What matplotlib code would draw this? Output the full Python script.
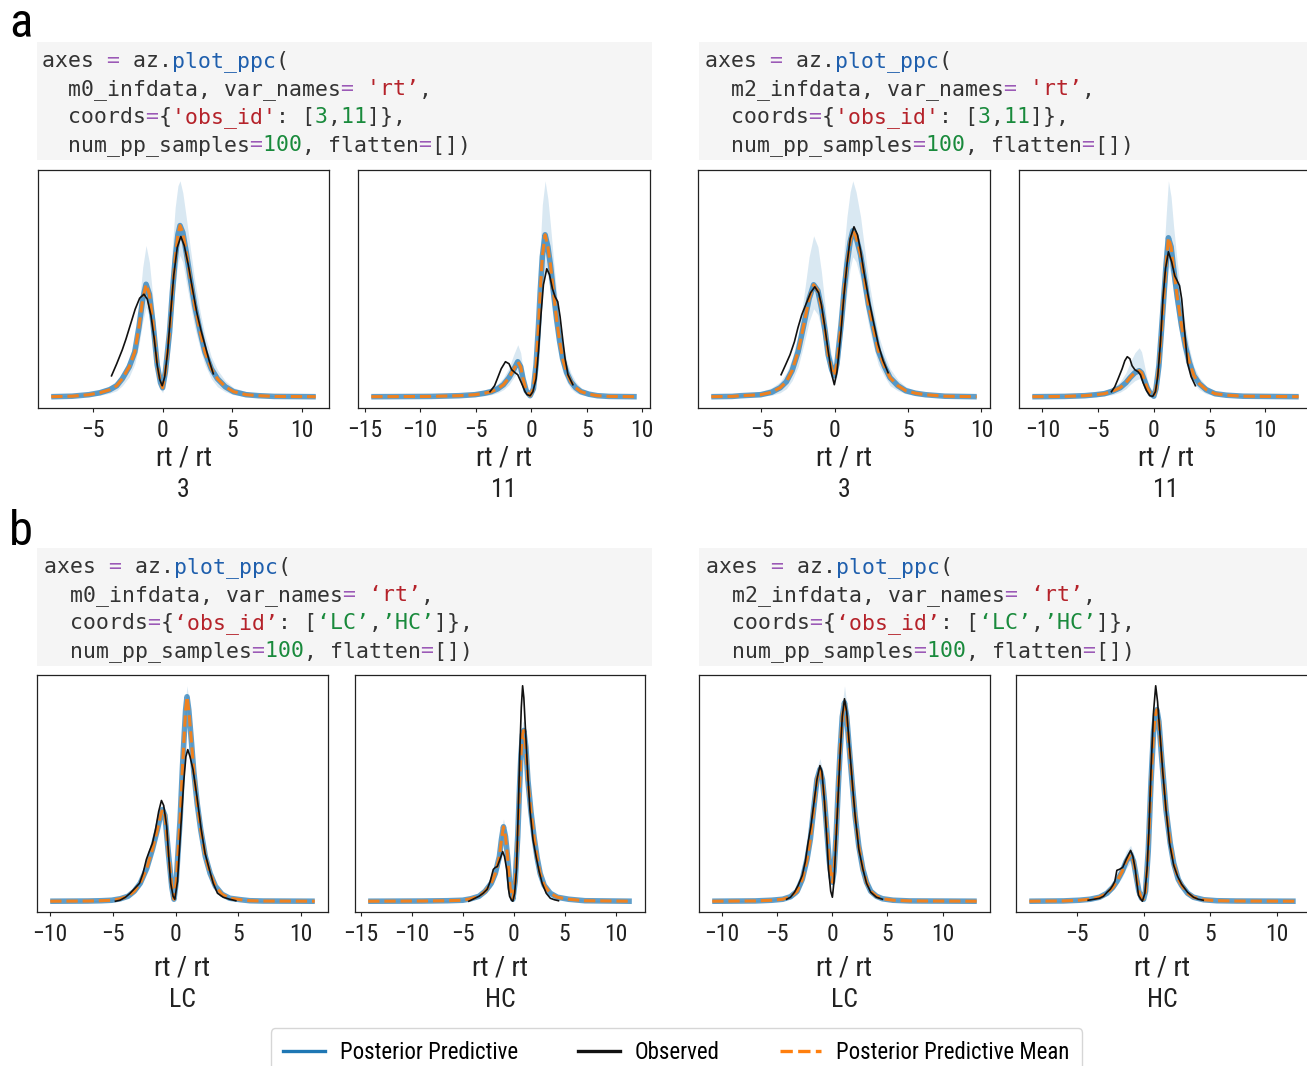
import numpy as np
import matplotlib
matplotlib.use("Agg")
import matplotlib.pyplot as plt
from matplotlib.lines import Line2D
from matplotlib.patches import Rectangle

plt.rcParams['font.family'] = ['Roboto Condensed', 'Liberation Sans Narrow', 'DejaVu Sans']

# ---------------- data (density heights in arbitrary units) ----------------
# Panel 1: m0, obs_id 3
p1_x = [-8.0, -6.5, -5.3, -4.5, -3.8, -3.3, -2.9, -2.4, -2.0, -1.7, -1.43, -1.19, -0.95, -0.7, -0.39, -0.15, 0.0, 0.2, 0.5, 0.7, 0.9, 1.1, 1.25, 1.45, 1.7, 2.0, 2.3, 2.7, 3.04, 3.5, 3.94, 4.5, 5.1, 6.0, 6.9, 8.0, 11.0]
p1_mean = [0, 0.5, 2, 4, 7, 11, 18, 30, 45, 70, 98, 113, 103, 75, 32, 14, 9, 25, 65, 105, 138, 163, 172, 165, 145, 118, 92, 65, 45, 28, 18, 10, 5, 2, 1, 0.3, 0]
p1_hi = [0, 1.5, 4, 7, 11, 16, 24, 38, 56, 90, 130, 152, 135, 100, 48, 24, 16, 40, 95, 150, 190, 212, 217, 205, 180, 148, 118, 85, 62, 40, 27, 16, 9, 5, 3, 1, 0]
p1_lo = [0, 0, 0.5, 1.5, 3.5, 6, 11, 20, 33, 52, 75, 90, 80, 55, 20, 7, 4, 14, 45, 80, 110, 135, 142, 135, 115, 92, 70, 48, 32, 18, 10, 5, 2, 0.5, 0, 0, 0]
p1_obs_x = [-3.67, -3.3, -2.9, -2.63, -2.3, -1.97, -1.65, -1.34, -1.1, -0.84, -0.6, -0.39, -0.2, -0.03, 0.15, 0.36, 0.6, 0.8, 1.05, 1.31, 1.55, 1.85, 2.15, 2.45, 2.75, 3.04, 3.35, 3.64]
p1_obs = [21, 33, 47, 58, 73, 88, 99, 103, 98, 82, 58, 32, 17, 11, 20, 45, 88, 122, 150, 161, 152, 132, 108, 85, 67, 52, 36, 23]

# Panel 2: m0, obs_id 11
p2_x = [-14.4, -9.0, -6.5, -5.07, -4.2, -3.6, -3.0, -2.5, -2.0, -1.58, -1.21, -0.95, -0.74, -0.45, -0.1, 0.2, 0.44, 0.65, 0.81, 1.0, 1.25, 1.5, 1.73, 2.0, 2.28, 2.55, 2.83, 3.2, 3.57, 4.0, 4.49, 5.2, 5.96, 7.0, 9.5]
p2_mean = [0, 0.3, 1, 2, 3.5, 5, 8, 12, 19, 27, 35, 30, 18, 6, 1, 8, 32, 70, 105, 140, 162, 150, 132, 105, 78, 56, 38, 24, 15, 9, 5, 2.5, 1, 0.3, 0]
p2_hi = [0, 1, 2.5, 4.5, 7, 9, 13, 19, 29, 42, 52, 44, 28, 11, 3, 15, 50, 105, 150, 192, 216, 198, 172, 138, 105, 78, 55, 36, 24, 15, 9, 5, 2.5, 1, 0]
p2_lo = [0, 0, 0, 0.5, 1, 2, 4, 7, 12, 19, 25, 20, 11, 3, 0, 4, 20, 48, 75, 108, 128, 120, 105, 82, 58, 40, 25, 15, 8, 4, 2, 0.5, 0, 0, 0]
p2_obs_x = [-3.71, -3.3, -3.05, -2.7, -2.32, -2.0, -1.76, -1.45, -1.21, -0.85, -0.55, -0.37, -0.1, 0.15, 0.44, 0.65, 0.88, 1.1, 1.4, 1.65, 1.91, 2.15, 2.39, 2.6, 2.83, 3.05, 3.31, 3.75]
p2_obs = [5, 11, 18, 28, 35, 33, 27, 24, 22, 13, 5, 2, 1, 5, 18, 45, 82, 112, 128, 122, 108, 100, 95, 80, 58, 38, 22, 12]

# Panel 3: m2, obs_id 3
p3_x = [-8.42, -7.0, -6.4, -5.05, -4.3, -3.72, -3.3, -2.91, -2.5, -2.11, -1.75, -1.44, -1.15, -0.91, -0.65, -0.45, -0.2, -0.03, 0.15, 0.43, 0.65, 0.83, 1.05, 1.23, 1.45, 1.76, 2.0, 2.3, 2.65, 2.97, 3.4, 3.77, 4.3, 4.84, 5.5, 6.18, 7.5, 9.68]
p3_mean = [0, 0.3, 1, 2, 4.5, 9, 15, 26, 45, 72, 98, 112, 106, 89, 65, 42, 27, 21, 33, 72, 108, 132, 155, 166, 160, 142, 120, 92, 68, 46, 30, 19, 11, 6, 3.5, 2, 0.5, 0]
p3_hi = [0, 1, 2.5, 5, 9, 15, 24, 38, 62, 100, 140, 161, 150, 125, 90, 60, 40, 32, 50, 100, 150, 180, 205, 216, 205, 180, 152, 118, 88, 62, 42, 28, 17, 10, 6, 3.5, 1, 0]
p3_lo = [0, 0, 0, 0.5, 1.5, 4, 8, 16, 30, 52, 75, 88, 82, 68, 46, 28, 17, 13, 20, 50, 80, 104, 128, 140, 135, 118, 98, 72, 50, 32, 20, 11, 6, 3, 1, 0.5, 0, 0]
p3_obs_x = [-3.66, -3.35, -3.05, -2.75, -2.51, -2.25, -1.98, -1.65, -1.36, -1.1, -0.91, -0.7, -0.45, -0.2, -0.03, 0.15, 0.43, 0.63, 0.83, 1.05, 1.31, 1.55, 1.76, 2.0, 2.3, 2.65, 2.97, 3.3, 3.64]
p3_obs = [22, 32, 42, 55, 69, 82, 92, 104, 110, 104, 92, 72, 46, 22, 12, 25, 66, 102, 132, 158, 170, 162, 146, 124, 99, 74, 52, 36, 24]

# Panel 4: m2, obs_id 11
p4_x = [-10.9, -8.0, -6.2, -5.2, -4.44, -3.7, -3.02, -2.5, -2.13, -1.7, -1.31, -1.1, -0.89, -0.6, -0.3, 0.0, 0.2, 0.46, 0.7, 0.89, 1.1, 1.31, 1.55, 1.78, 2.1, 2.49, 2.85, 3.2, 3.6, 4.09, 4.7, 5.5, 6.5, 8.0, 13.0]
p4_mean = [0, 0.3, 1, 2, 3, 5.5, 9, 14, 19, 24, 26, 24, 18, 9, 3, 0.5, 8, 31, 68, 98, 132, 159, 150, 128, 100, 71, 50, 34, 21, 13, 7, 3, 1.5, 0.5, 0]
p4_hi = [0, 1, 2.5, 4.5, 6, 9.5, 15, 24, 34, 44, 49, 45, 34, 18, 7, 2, 15, 50, 100, 140, 180, 216, 200, 170, 135, 98, 70, 48, 30, 19, 11, 5, 2.5, 1, 0]
p4_lo = [0, 0, 0, 0, 1, 2, 4.5, 8, 12, 16, 18, 16, 11, 4, 1, 0, 3, 18, 45, 72, 105, 131, 122, 104, 78, 52, 34, 22, 13, 7, 3, 1, 0.5, 0, 0]
p4_obs_x = [-3.8, -3.5, -3.2, -2.84, -2.6, -2.38, -2.15, -1.95, -1.7, -1.42, -1.2, -0.96, -0.65, -0.36, -0.1, 0.15, 0.36, 0.6, 0.82, 1.05, 1.31, 1.6, 1.88, 2.1, 2.31, 2.5, 2.66, 2.85, 3.02, 3.35, 3.73]
p4_obs = [5, 10, 18, 28, 36, 40, 38, 31, 27, 25, 22, 14, 6, 1, 0.3, 5, 21, 55, 98, 128, 145, 135, 121, 116, 111, 98, 78, 55, 34, 20, 11]

# Panel 5: m0, obs_id LC
p5_x = [-10.0, -7.0, -5.93, -5.09, -4.4, -3.79, -3.3, -2.82, -2.3, -1.85, -1.45, -1.2, -1.04, -0.85, -0.55, -0.3, -0.13, 0.05, 0.36, 0.55, 0.68, 0.8, 0.91, 1.05, 1.23, 1.45, 1.72, 2.0, 2.37, 2.75, 3.18, 3.7, 4.31, 5.2, 5.93, 7.0, 11.1]
p5_mean = [0, 0.2, 0.5, 1, 2.5, 5, 10, 18, 33, 52, 72, 86, 92, 86, 45, 14, 2, 20, 82, 135, 165, 192, 205, 192, 165, 130, 98, 72, 45, 28, 15, 7, 3, 1.5, 0.5, 0.2, 0]
p5_hi = [0, 0.5, 1, 2, 3.5, 6.5, 12, 21, 37, 57, 78, 91, 96, 90, 50, 18, 4, 26, 92, 146, 176, 203, 216, 202, 175, 138, 105, 78, 50, 31, 17, 8.5, 4, 2, 1, 0.5, 0]
p5_lo = [0, 0, 0, 0.3, 1.5, 3.5, 8, 15, 29, 47, 66, 80, 86, 80, 40, 11, 0.5, 15, 72, 124, 154, 180, 192, 180, 154, 122, 91, 66, 40, 24, 12, 5.5, 2, 1, 0.2, 0, 0]
p5_obs_x = [-4.8, -4.44, -4.0, -3.63, -3.25, -2.88, -2.6, -2.33, -2.1, -1.85, -1.6, -1.35, -1.13, -0.95, -0.71, -0.55, -0.39, -0.2, -0.06, 0.15, 0.42, 0.65, 0.82, 0.97, 1.15, 1.39, 1.7, 2.04, 2.35, 2.69, 3.0, 3.34, 3.8, 4.31, 4.8]
p5_obs = [0, 1, 4, 8, 13, 18, 28, 42, 50, 58, 72, 90, 101, 96, 75, 45, 18, 5, 2, 20, 75, 120, 145, 152, 145, 132, 105, 72, 48, 32, 18, 8, 4, 2, 0.5]

# Panel 6: m0, obs_id HC
p6_x = [-14.28, -9.0, -6.5, -5.0, -4.2, -3.4, -2.8, -2.2, -1.8, -1.4, -1.2, -1.0, -0.8, -0.6, -0.35, -0.08, 0.15, 0.4, 0.58, 0.72, 0.87, 1.0, 1.2, 1.4, 1.7, 2.0, 2.3, 2.6, 3.0, 3.6, 4.3, 5.4, 7.0, 11.6]
p6_mean = [0, 0.2, 0.5, 1, 2.5, 5, 10, 18, 28, 45, 62, 75, 65, 45, 14, 2, 20, 65, 115, 148, 168, 172, 155, 122, 90, 65, 44, 28, 16, 8, 4, 2, 0.5, 0]
p6_hi = [0, 0.5, 1, 2, 4, 7, 13, 23, 34, 55, 74, 83, 73, 52, 18, 4, 26, 75, 128, 162, 180, 182, 166, 132, 98, 72, 49, 32, 19, 10, 5, 2.5, 1, 0]
p6_lo = [0, 0, 0, 0.3, 1.5, 3.5, 7.5, 14, 23, 37, 52, 66, 57, 38, 10, 0.5, 14, 55, 102, 134, 155, 165, 145, 112, 82, 58, 39, 24, 13, 6, 2.5, 1, 0.2, 0]
p6_obs_x = [-4.4, -4.2, -3.8, -3.4, -3.0, -2.6, -2.3, -2.0, -1.8, -1.6, -1.35, -1.08, -0.9, -0.68, -0.5, -0.4, -0.2, -0.08, 0.1, 0.28, 0.45, 0.6, 0.75, 0.88, 1.0, 1.2, 1.4, 1.6, 1.9, 2.2, 2.5, 2.8, 3.2, 3.6, 4.0, 4.4]
p6_obs = [0, 1, 3, 5, 8, 12, 20, 32, 34, 35, 42, 50, 45, 32, 12, 5, 1, 0, 8, 32, 90, 148, 195, 217, 205, 165, 125, 92, 62, 45, 30, 18, 8, 3, 1.5, 0.5]

# Panel 7: m2, obs_id LC
p7_x = [-10.9, -7.0, -5.5, -4.5, -3.8, -3.2, -2.73, -2.3, -2.0, -1.67, -1.4, -1.13, -0.9, -0.71, -0.5, -0.3, -0.1, 0.0, 0.15, 0.35, 0.55, 0.71, 0.9, 1.1, 1.3, 1.52, 1.8, 2.06, 2.4, 2.77, 3.1, 3.48, 4.0, 4.54, 5.5, 7.0, 13.1]
p7_mean = [0, 0.3, 1, 2, 4.5, 10, 22, 42, 62, 95, 122, 132, 122, 100, 70, 42, 24, 19, 30, 68, 118, 152, 185, 199, 185, 155, 118, 86, 55, 32, 19, 10, 5, 2.5, 1, 0.3, 0]
p7_hi = [0, 1, 2, 3.5, 7, 14, 27, 49, 70, 105, 134, 143, 132, 108, 77, 48, 29, 24, 36, 77, 130, 165, 198, 216, 198, 167, 128, 94, 61, 37, 22, 12, 6.5, 3.5, 1.5, 0.6, 0]
p7_lo = [0, 0, 0.3, 1, 2.5, 6.5, 17, 36, 54, 86, 112, 122, 112, 92, 63, 36, 19, 14, 24, 59, 106, 140, 173, 188, 173, 144, 108, 78, 49, 27, 15, 7.5, 3.5, 1.5, 0.5, 0, 0]
p7_obs_x = [-4.15, -3.8, -3.44, -3.1, -2.73, -2.45, -2.2, -1.95, -1.67, -1.4, -1.13, -0.95, -0.71, -0.5, -0.35, -0.15, 0.0, 0.15, 0.35, 0.55, 0.71, 0.9, 1.1, 1.3, 1.52, 1.8, 2.06, 2.4, 2.77, 3.1, 3.48, 4.0, 4.54]
p7_obs = [2, 4, 9, 16, 26, 40, 59, 75, 99, 122, 136, 130, 99, 62, 32, 10, 4, 20, 66, 112, 149, 185, 203, 190, 159, 120, 86, 52, 32, 18, 9, 4, 2]

# Panel 8: m2, obs_id HC
p8_x = [-8.56, -6.0, -4.8, -4.0, -3.3, -2.74, -2.3, -2.0, -1.6, -1.3, -0.97, -0.75, -0.55, -0.35, -0.15, 0.0, 0.15, 0.35, 0.56, 0.75, 0.9, 1.0, 1.15, 1.35, 1.68, 2.0, 2.26, 2.6, 2.85, 3.3, 3.74, 4.5, 5.5, 7.0, 11.4]
p8_mean = [0, 0.3, 1, 2, 4, 8, 14, 20, 30, 40, 47, 40, 25, 10, 3, 2, 10, 50, 120, 170, 188, 192, 180, 145, 92, 58, 38, 22, 16, 8, 4, 1.5, 0.5, 0.2, 0]
p8_hi = [0, 0.6, 1.6, 3, 5.5, 10.5, 17.5, 25, 37, 50, 56, 48, 31, 13, 5, 4, 14, 58, 130, 182, 197, 199, 188, 152, 98, 63, 42, 25, 18, 10, 5, 2, 0.8, 0.3, 0]
p8_lo = [0, 0, 0.5, 1.2, 2.8, 6, 11, 16, 24, 33, 39, 33, 20, 7, 1.5, 0.5, 6, 42, 110, 158, 178, 184, 171, 138, 86, 53, 34, 19, 13, 6, 3, 1, 0.2, 0, 0]
p8_obs_x = [-4.15, -3.7, -3.3, -3.0, -2.74, -2.5, -2.3, -2.15, -2.0, -1.8, -1.56, -1.3, -0.97, -0.8, -0.62, -0.5, -0.38, -0.2, -0.09, 0.1, 0.26, 0.4, 0.56, 0.75, 0.91, 1.05, 1.24, 1.45, 1.68, 1.95, 2.26, 2.55, 2.85, 3.3, 3.74, 4.1, 4.47]
p8_obs = [1, 2, 3, 5, 9, 12, 16, 20, 31, 32, 34, 42, 51, 45, 32, 18, 6, 2, 0, 8, 32, 70, 132, 190, 216, 200, 166, 128, 92, 58, 36, 25, 17, 9, 4, 2, 1]

panel_titles = ["3", "11", "3", "11", "LC", "HC", "LC", "HC"]
x_label = "rt / rt"
legend_labels = ["Posterior Predictive", "Observed", "Posterior Predictive Mean"]
panel_labels = ["a", "b"]
model_names = ["m0_infdata", "m2_infdata"]

panels = [
    (p1_x, p1_mean, p1_lo, p1_hi, p1_obs_x, p1_obs),
    (p2_x, p2_mean, p2_lo, p2_hi, p2_obs_x, p2_obs),
    (p3_x, p3_mean, p3_lo, p3_hi, p3_obs_x, p3_obs),
    (p4_x, p4_mean, p4_lo, p4_hi, p4_obs_x, p4_obs),
    (p5_x, p5_mean, p5_lo, p5_hi, p5_obs_x, p5_obs),
    (p6_x, p6_mean, p6_lo, p6_hi, p6_obs_x, p6_obs),
    (p7_x, p7_mean, p7_lo, p7_hi, p7_obs_x, p7_obs),
    (p8_x, p8_mean, p8_lo, p8_hi, p8_obs_x, p8_obs),
]

# ---------------- layout (pixels) ----------------
W, H = 1307, 1066
fig = plt.figure(figsize=(W / 100, H / 100), dpi=100)
fig.patch.set_facecolor("white")

# (left, top, right, bottom) in pixels from top-left
axes_px = [
    (38, 170, 329, 407.5), (358, 170, 650, 407.5), (698, 170, 990, 407.5), (1019, 170, 1312, 407.5),
    (37, 675, 328, 912), (355, 675, 645, 912), (699, 675, 990, 912), (1016, 675, 1309, 912),
]

C_BLUE = "#1f77b4"
C_ORANGE = "#ff7f0e"

for i, ((l, t, r, b), (x, mean, lo, hi, ox, oy)) in enumerate(zip(axes_px, panels)):
    ax = fig.add_axes([l / W, 1 - b / H, (r - l) / W, (b - t) / H])
    x = np.asarray(x); mean = np.asarray(mean)
    lo = np.asarray(lo); hi = np.asarray(hi)
    ax.fill_between(x, lo, hi, color=C_BLUE, alpha=0.17, lw=0, zorder=1)
    ax.plot(x, mean, color=C_BLUE, lw=4.0, alpha=0.7, zorder=2, solid_capstyle="butt")
    ax.plot(x, mean, color=C_ORANGE, lw=2.2, ls="--", zorder=3, alpha=0.9)
    ax.plot(ox, oy, color="#111111", lw=1.2, zorder=4)
    M = max(hi.max(), max(oy))
    ax.set_ylim(-0.05 * M, 1.05 * M)
    pad = 0.05 * (x[-1] - x[0])
    ax.set_xlim(x[0] - pad, x[-1] + pad)
    ax.xaxis.set_major_locator(matplotlib.ticker.MultipleLocator(5))
    ax.set_yticks([])
    ax.tick_params(axis="x", labelsize=17, length=3, width=0.8, pad=5, colors="#222222")
    for s in ax.spines.values():
        s.set_linewidth(0.9)
        s.set_color("#222222")
    cx = (l + r) / 2
    ylab = 458 if i < 4 else 968
    ytit = 490 if i < 4 else 1000
    fig.text(cx / W, 1 - ylab / H, x_label, ha="center", va="center", fontsize=20, color="#222222")
    fig.text(cx / W, 1 - ytit / H, panel_titles[i], ha="center", va="center", fontsize=18.5, color="#222222")

# ---------------- code blocks ----------------
D = "#333333"; P = "#9b59b6"; B = "#1f5fad"; R = "#b5222a"; G = "#198a3c"

def code_lines(model, quoted_ids):
    if quoted_ids:
        l2 = [("  " + model + ", var_names", D), ("=", P), (" ", D), ("\u2018rt\u2019", R), (",", D)]
        l3 = [("  coords", D), ("=", P), ("{", D), ("\u2018obs_id\u2019", R), (": [", D),
              ("\u2018LC\u2019", G), (",", D), ("\u2019HC\u2019", G), ("]},", D)]
    else:
        l2 = [("  " + model + ", var_names", D), ("=", P), (" ", D), ("'rt\u2019", R), (",", D)]
        l3 = [("  coords", D), ("=", P), ("{", D), ("'obs_id'", R), (": [", D),
              ("3", G), (",", D), ("11", G), ("]},", D)]
    l1 = [("axes ", D), ("=", P), (" az.", D), ("plot_ppc", B), ("(", D)]
    l4 = [("  num_pp_samples", D), ("=", P), ("100", G), (", flatten", D), ("=", P), ("[])", D)]
    return [l1, l2, l3, l4]

def draw_code(y_top, y_bot, rx0, rx1, text_x, base0, model, quoted):
    fig.patches.append(Rectangle((rx0 / W, 1 - y_bot / H), (rx1 - rx0) / W, (y_bot - y_top) / H,
                                 transform=fig.transFigure, facecolor="#f5f5f5", edgecolor="none", zorder=0))
    for k, toks in enumerate(code_lines(model, quoted)):
        yb = base0 + 28 * k
        for col in dict.fromkeys(c for _, c in toks):
            s = "".join(t if c == col else " " * len(t) for t, c in toks)
            fig.text(text_x / W, 1 - yb / H, s, color=col, family="DejaVu Sans Mono",
                     fontsize=15.5, ha="left", va="baseline")

draw_code(42, 160, 37, 652, 42, 67, model_names[0], False)
draw_code(42, 160, 699, 1307, 705, 67, model_names[1], False)
draw_code(548, 666, 37, 652, 44, 573, model_names[0], True)
draw_code(548, 666, 699, 1307, 706, 573, model_names[1], True)

# panel letters
fig.text(9 / W, 1 - 37 / H, panel_labels[0], fontsize=35, ha="left", va="baseline", color="black")
fig.text(9 / W, 1 - 545 / H, panel_labels[1], fontsize=35, ha="left", va="baseline", color="black")

# ---------------- legend ----------------
handles = [Line2D([], [], color=C_BLUE, lw=2.4),
           Line2D([], [], color="#111111", lw=2.4),
           Line2D([], [], color=C_ORANGE, lw=2.4, ls="--")]
leg = fig.legend(handles, legend_labels, loc="upper center", bbox_to_anchor=(676.5 / W, 1 - 1028 / H),
                 ncol=3, fontsize=16.5, frameon=True, fancybox=True, edgecolor="#cccccc",
                 handlelength=1.8, handletextpad=0.65, columnspacing=2.65, borderpad=0.55,
                 borderaxespad=0)
leg.get_frame().set_linewidth(1.0)

fig.savefig("out.png", dpi=100, facecolor="white")
